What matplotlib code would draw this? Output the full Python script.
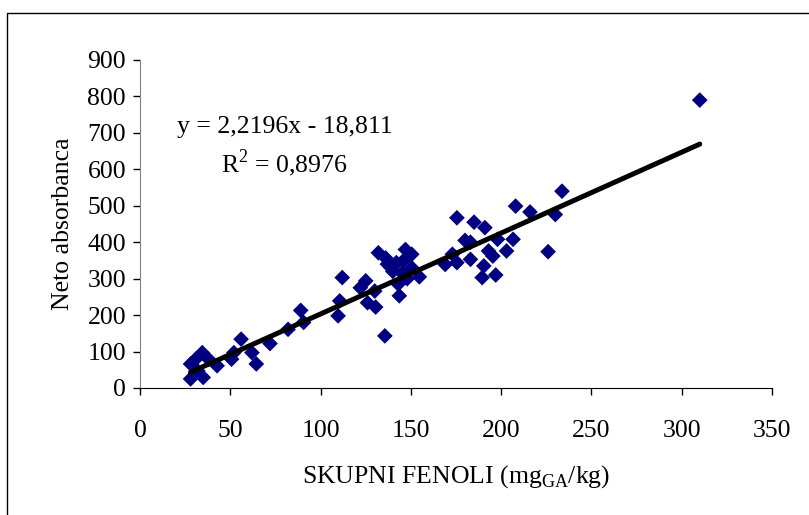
import matplotlib
matplotlib.use("Agg")
import matplotlib.pyplot as plt
from matplotlib.patches import Rectangle
import numpy as np

plt.rcParams['font.family'] = ['Liberation Serif', 'DejaVu Serif']
plt.rcParams['mathtext.fontset'] = 'custom'
plt.rcParams['mathtext.rm'] = 'Liberation Serif'

# data: total phenols (x) vs net absorbance (y)
fenoli = [310, 233.7, 208, 216, 230, 175.5, 185, 191, 180, 183, 198, 206.6,
          203, 193, 195.4, 226, 183, 173, 175.5, 169, 190.4, 197, 189.5,
          132, 136, 147, 150.5, 142, 139, 150.5, 145, 154.7, 143, 143.6,
          112, 122, 125, 130, 126, 130.5, 110.6, 109.7, 89, 90.6, 82, 72,
          135.6, 56, 52, 50.7, 62, 64.4, 42.7, 38, 34.5, 30.8, 28, 28, 35, 32,
          140, 146, 137, 148]
absorbanca = [790, 540, 499, 483, 476, 467, 455, 440, 405, 400, 408, 408,
              376, 376, 362, 374, 353, 367, 344, 339, 335, 310, 303,
              371, 357, 380, 367, 344, 330, 330, 316, 305, 285, 253,
              303, 275, 294, 266, 234, 222, 239, 198, 213, 180, 161, 122,
              143, 134, 97, 79, 97, 66, 61, 79, 97, 79, 66, 25, 29, 47,
              320, 350, 340, 300]

slope = 2.2196
intercept = -18.811
eq_text = "y = 2,2196x - 18,811"
r2_text = "R$^2$ = 0,8976"

xticks = [0, 50, 100, 150, 200, 250, 300, 350]
yticks = [0, 100, 200, 300, 400, 500, 600, 700, 800, 900]

fig = plt.figure(figsize=(8.09, 5.15), dpi=100)
ax = fig.add_axes([140/809, 1-388/515, 632/809, 328/515])

ax.scatter(fenoli, absorbanca, marker='D', s=8.0**2, color='#000080',
           edgecolors='none', zorder=2)

xl = np.array([min(fenoli), max(fenoli)])
ax.plot(xl, slope*xl + intercept, color='black', lw=3.6, solid_capstyle='round', zorder=3)

ax.set_xlim(0, 350)
ax.set_ylim(0, 900)
ax.set_xticks(xticks)
ax.set_yticks(yticks)
ax.tick_params(labelsize=18.5, direction='out', length=5, width=1)
ax.tick_params(axis='x', pad=18)
ax.tick_params(axis='y', pad=5)
for s in ['top', 'right']:
    ax.spines[s].set_visible(False)
ax.spines['left'].set_color('#808080')
ax.spines['bottom'].set_color('black')

ax.set_xlabel("SKUPNI FENOLI (mg$_{\\mathrm{GA}}$/kg)", fontsize=18.5, labelpad=15)
ax.set_ylabel("Neto absorbanca", fontsize=18.5, labelpad=10)

ax.text(80, 716, eq_text, fontsize=18.5, ha='center', va='center')
ax.text(80, 617, r2_text, fontsize=18.5, ha='center', va='center')

fig.patches.append(Rectangle((7/809, -0.05), 1.2, 0.05 + 1-13/515, transform=fig.transFigure,
                             fill=False, edgecolor='black', lw=1))

fig.savefig("out.png", dpi=100)
